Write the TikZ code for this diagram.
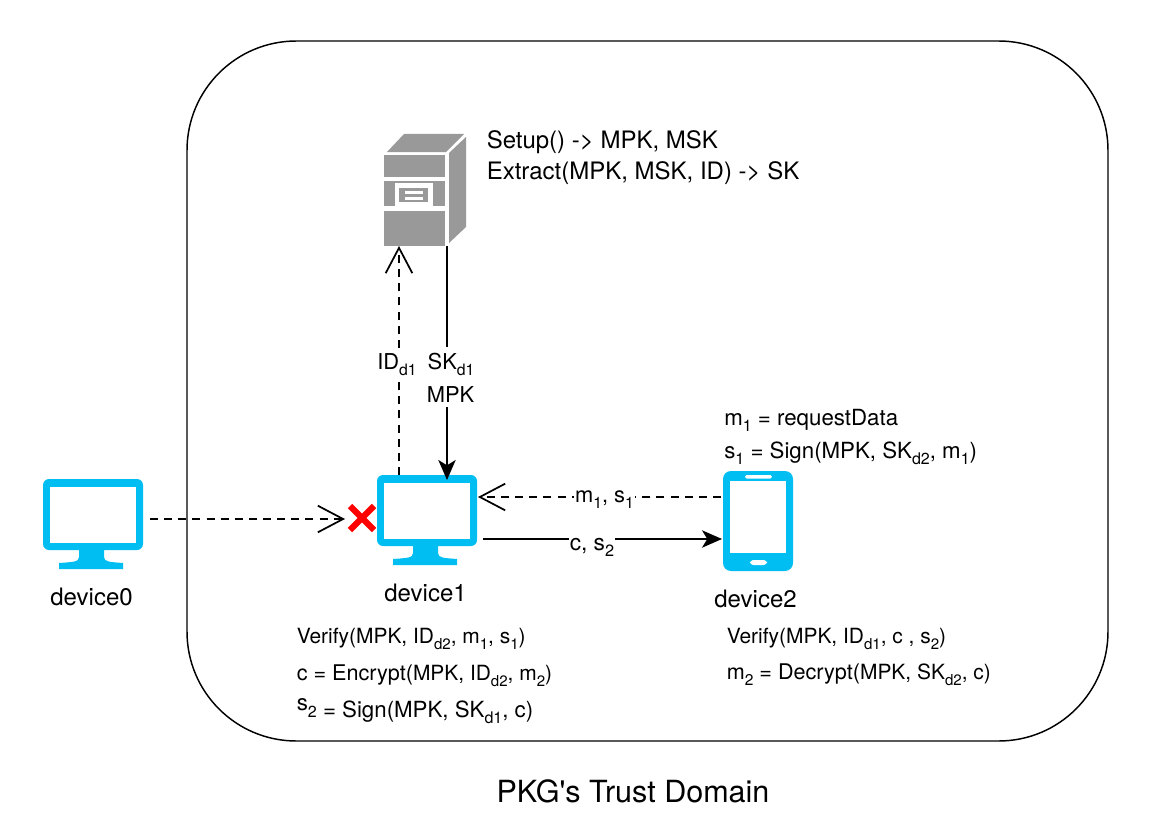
\documentclass[tikz,border=0pt]{standalone}
\usepackage{fontspec}
\usepackage{graphicx}
\setmainfont{TeX Gyre Heros}[Ligatures=TeXOff]
\usetikzlibrary{arrows.meta,calc}
\definecolor{devblue}{HTML}{00BEF2}
\definecolor{srvgray}{HTML}{999999}
\newcommand\sbs[1]{\raisebox{-0.3em}{\scalebox{.72}{#1}}}
\newcommand\fs[1]{\fontsize{#1}{#1}\selectfont}
\tikzset{
 x=.75pt,y=-.75pt,
 anchorbox/.style={inner sep=0pt,outer sep=0pt,draw=none},
 big/.style={font=\fs{18},inner sep=0pt,anchor=base},
 lbl/.style={font=\fs{16.4},inner xsep=.5pt,inner ysep=4pt,fill=white,anchor=base},
 small/.style={font=\fs{15.7},anchor=base west,inner sep=0pt},
 mid/.style={font=\fs{16.7},anchor=base west,inner sep=0pt},
 flow/.style={line width=1.5pt,black},
 reqline/.style={line width=1.4pt,dash pattern=on 6pt off 4.6pt},
 barbtip/.style={-{Straight Barb[length=19pt,width=20pt,line width=1.3pt]}},
 solidtip/.style={-{Stealth[length=15pt,width=13pt,inset=4pt]}},
 pics/monitor/.style={code={
   \fill[devblue,rounded corners=4.5pt] (0,0) rectangle (100,71);
   \fill[white] (7,8) rectangle (93,64);
   \fill[devblue] (36,71) -- (36,78) .. controls (36,83) and (30,83) .. (16,84) -- (16,90) -- (80,90) -- (80,84) .. controls (67,83) and (61,83) .. (61,78) -- (61,71) -- cycle;
 }},
}
\begin{document}
\begin{tikzpicture}
\useasboundingbox (0,0) rectangle (1168,824);
\fill[white] (0,0) rectangle (1168,824);
% trust domain
\node[anchorbox,draw=black,line width=1.1pt,rounded corners=82pt,minimum width=921*.75pt,minimum height=700*.75pt] (domain) at (647.5,391) {};
\node[font=\fs{22.9},inner sep=0pt,anchor=base] (domainlabel) at (633,802) {PKG's Trust Domain};
% server
\node[anchorbox,minimum width=61*.75pt,minimum height=91*.75pt] (server) at (414.5,200.5) {};
\fill[srvgray] (384,155) rectangle (445,177);
\fill[srvgray] (384,181) rectangle (445,206);
\fill[srvgray] (384,211) rectangle (445,246);
\fill[srvgray] (387,152) -- (404,134) -- (464,134) -- (446,152) -- cycle;
\fill[srvgray] (449,153) -- (466,137) -- (466,227) -- (449,243) -- cycle;
\fill[white] (395,183) rectangle (433,206);
\fill[srvgray] (399,188) rectangle (428,202);
\fill[white] (405,190.7) rectangle (423,194);
\fill[white] (405,196.7) rectangle (423,200);
% devices
\node[anchorbox,minimum width=100*.75pt,minimum height=90*.75pt] (dev0) at (93,524) {};
\pic at (43,479) {monitor};
\node[anchorbox,minimum width=100*.75pt,minimum height=90*.75pt] (dev1) at (427,520) {};
\pic at (377,475) {monitor};
\node[anchorbox,minimum width=70*.75pt,minimum height=100*.75pt] (dev2) at (758,521) {};
\fill[devblue,rounded corners=6pt] (723,471) rectangle (793,571);
\fill[white] (730,481) rectangle (786,553);
\fill[white,rounded corners=1.2pt] (745,475) rectangle (772,478.5);
\fill[white,rounded corners=2.5pt] (750,560) rectangle (767,565);
% red cross
\node[anchorbox,minimum width=24*.75pt,minimum height=24*.75pt] (cross) at (362,518) {};
\draw[red,line width=4.6pt] (cross.north west) -- (cross.south east);
\draw[red,line width=4.6pt] (cross.south west) -- (cross.north east);
% connectors
\draw[reqline,barbtip] ($(dev1.north west)+(22,0)$) -- ($(server.south west)+(15,0)$);
\draw[flow,solidtip] ($(server.south east)+(2,0)$) -- ($(dev1.north west)+(70,5)$);
\draw[reqline,barbtip] ($(dev2.north west)+(-2,26)$) -- ($(dev1.north east)+(1,22)$);
\draw[flow,solidtip] ($(dev1.east)+(6,19)$) -- ($(dev2.west)+(-1,18)$);
\draw[reqline,barbtip] ($(dev0.east)+(7,-5)$) -- ($(cross.west)+(-5,1)$);
% labels
\node[lbl] (idlbl) at (397,369) {ID\sbs{d1}};
\node[lbl] (sklbl) at (451,369) {SK\sbs{d1}};
\node[lbl] (mpklbl) at (450.5,402) {MPK};
\node[lbl] (mslbl) at (604.5,502) {m\sbs{1}, s\sbs{1}};
\node[lbl,font=\fs{17}] (cslbl) at (592,550) {c, s\sbs{2}};
\node[big,anchor=base west] (srvtxt1) at (486.5,148) {Setup() -> MPK, MSK};
\node[big,anchor=base west] (srvtxt2) at (486.5,179) {Extract(MPK, MSK, ID) -> SK};
\node[big] (name0) at (91.5,605) {device0};
\node[big] (name1) at (425.5,601) {device1};
\node[big] (name2) at (755.5,607) {device2};
\node[small] (t1a) at (296.5,643) {Verify(MPK, ID\sbs{d2}, m\sbs{1}, s\sbs{1})};
\node[small] (t1b) at (296.5,680) {{\fs{16.2}c = Encrypt(}MPK, ID\sbs{d2}, m\sbs{2})};
\node[mid] (t1c) at (296.5,717) {\raisebox{.3em}{s}\scalebox{.72}{2} = Sign(MPK, SK\sbs{d1}, c)};
\node[small] (t2a) at (726.5,643) {Verify(MPK, ID\sbs{d1}, c , s\sbs{2})};
\node[small] (t2b) at (726.5,679) {{\fs{16.2}m\sbs{2} = Decrypt(}MPK, SK\sbs{d2}, c)};
\node[mid] (t3a) at (724,425) {m\sbs{1} = requestData};
\node[mid] (t3b) at (724,458) {s\sbs{1} = Sign(MPK, SK\sbs{d2}, m\sbs{1})};
\end{tikzpicture}
\end{document}
